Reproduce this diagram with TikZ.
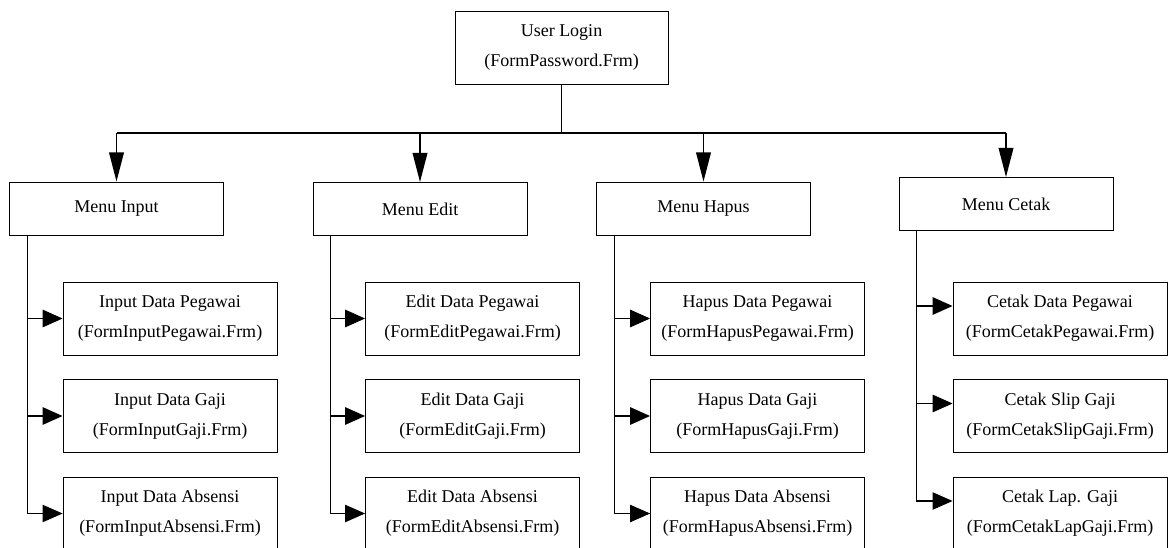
\documentclass[tikz,border=0pt]{standalone}
\usepackage{fontspec}
\setmainfont{Liberation Serif}
\usetikzlibrary{arrows.meta,calc,positioning}
\tikzset{
  loginbox/.style={draw, line width=0.6pt, fill=white, minimum width=159.75pt, minimum height=54.75pt, align=center, font=\fontsize{13.5}{22.5}\selectfont},
  menubox/.style={draw, line width=0.6pt, fill=white, minimum width=160.5pt, minimum height=39.75pt, align=center, font=\fontsize{13.5}{22.5}\selectfont},
  formbox/.style={draw, line width=0.6pt, fill=white, minimum width=160.5pt, minimum height=54.75pt, align=center, font=\fontsize{13.5}{22.5}\selectfont},
  bus/.style={line width=1.4pt},
  drop/.style={-{Triangle[length=22pt, width=11pt]}, line width=1.4pt},
  spine/.style={-{Triangle[length=15pt, width=13pt]}, line width=0.8pt},
  branch/.style={-{Triangle[length=15pt, width=13pt]}, line width=1.4pt}
}

\begin{document}
\begin{tikzpicture}[x=0.75pt,y=-0.75pt]
  \useasboundingbox (0,0) rectangle (1173,548);

  \node[loginbox] (login) at (561.5,47.5) {User Login\\(FormPassword.Frm)};

  \node[menubox] (minput) at (116.5,208.5) {Menu Input};
  \node[menubox] (medit) at (420,209) {Menu Edit};
  \node[menubox] (mhapus) at (703.5,208.5) {Menu Hapus};
  \node[menubox] (mcetak) at (1006,204) {Menu Cetak};

  \node[formbox] (input1) at (170,318.5) {Input Data Pegawai\\(FormInputPegawai.Frm)};
  \node[formbox] (input2) at (170,416) {Input Data Gaji\\(FormInputGaji.Frm)};
  \node[formbox] (input3) at (170,513.5) {Input Data Absensi\\(FormInputAbsensi.Frm)};

  \node[formbox] (edit1) at (472.5,318.5) {Edit Data Pegawai\\(FormEditPegawai.Frm)};
  \node[formbox] (edit2) at (472.5,416) {Edit Data Gaji\\(FormEditGaji.Frm)};
  \node[formbox] (edit3) at (472.5,513.5) {Edit Data Absensi\\(FormEditAbsensi.Frm)};

  \node[formbox] (hapus1) at (757.5,318.5) {Hapus Data Pegawai\\(FormHapusPegawai.Frm)};
  \node[formbox] (hapus2) at (757.5,416) {Hapus Data Gaji\\(FormHapusGaji.Frm)};
  \node[formbox] (hapus3) at (757.5,513.5) {Hapus Data Absensi\\(FormHapusAbsensi.Frm)};

  \node[formbox] (cetak1) at (1060,318.5) {Cetak Data Pegawai\\(FormCetakPegawai.Frm)};
  \node[formbox] (cetak2) at (1060,416) {Cetak Slip Gaji\\(FormCetakSlipGaji.Frm)};
  \node[formbox] (cetak3) at (1060,513.5) {Cetak Lap. Gaji\\(FormCetakLapGaji.Frm)};

  % login to the four menus
  \draw[bus] (login.south) -- ++(0,49) coordinate (bus);
  \draw[bus] (minput.north |- bus) -- (mcetak.north |- bus);
  \foreach \m in {minput,medit,mhapus,mcetak}
    \draw[drop] (\m.north |- bus) -- (\m.north);

  % menus to their forms
  \foreach \m/\f/\d in {minput/input/0, medit/edit/0, mhapus/hapus/0, mcetak/cetak/-12.5} {
    \draw[spine] ($(\m.south west)+(18,0)$) coordinate (s\f) |- ($(\f3.west)+(0,\d)$);
    \foreach \k in {1,2}
      \draw[branch] ($(s\f |- \f\k.west)+(0,\d)$) -- ($(\f\k.west)+(0,\d)$);
  }
\end{tikzpicture}
\end{document}
